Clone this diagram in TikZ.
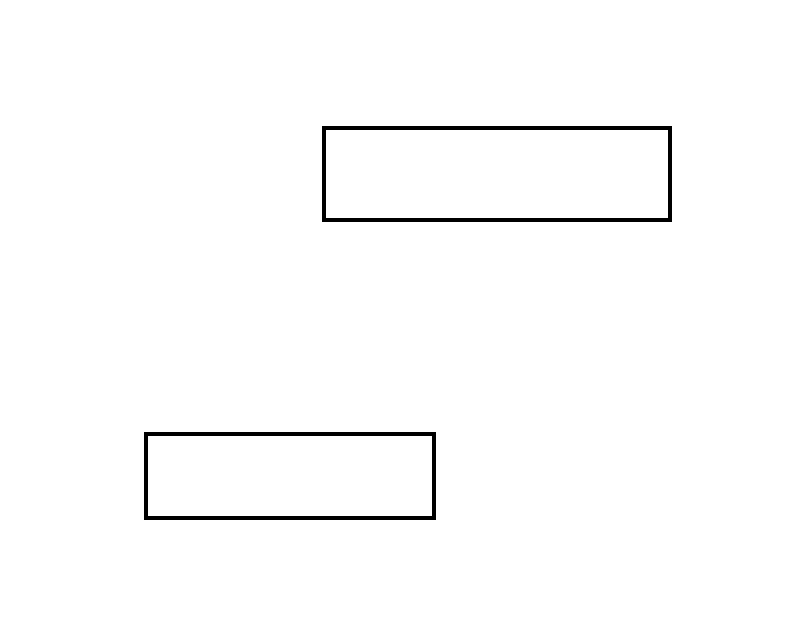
\documentclass[tikz,border=0pt]{standalone}
\begin{document}
\begin{tikzpicture}[x=1pt,y=-1pt,
  boxnode/.style={draw=black,line width=4pt,fill=white,inner sep=0pt,minimum width=#1}]
\useasboundingbox[fill=white] (0,0) rectangle (800,630);
\node[draw=black,line width=4pt,inner sep=0pt,minimum width=346pt,minimum height=92pt] (top) at (497,173.5) {};
\node[draw=black,line width=4pt,inner sep=0pt,minimum width=288pt,minimum height=84pt] (bottom) at (289.5,476) {};
\end{tikzpicture}
\end{document}
